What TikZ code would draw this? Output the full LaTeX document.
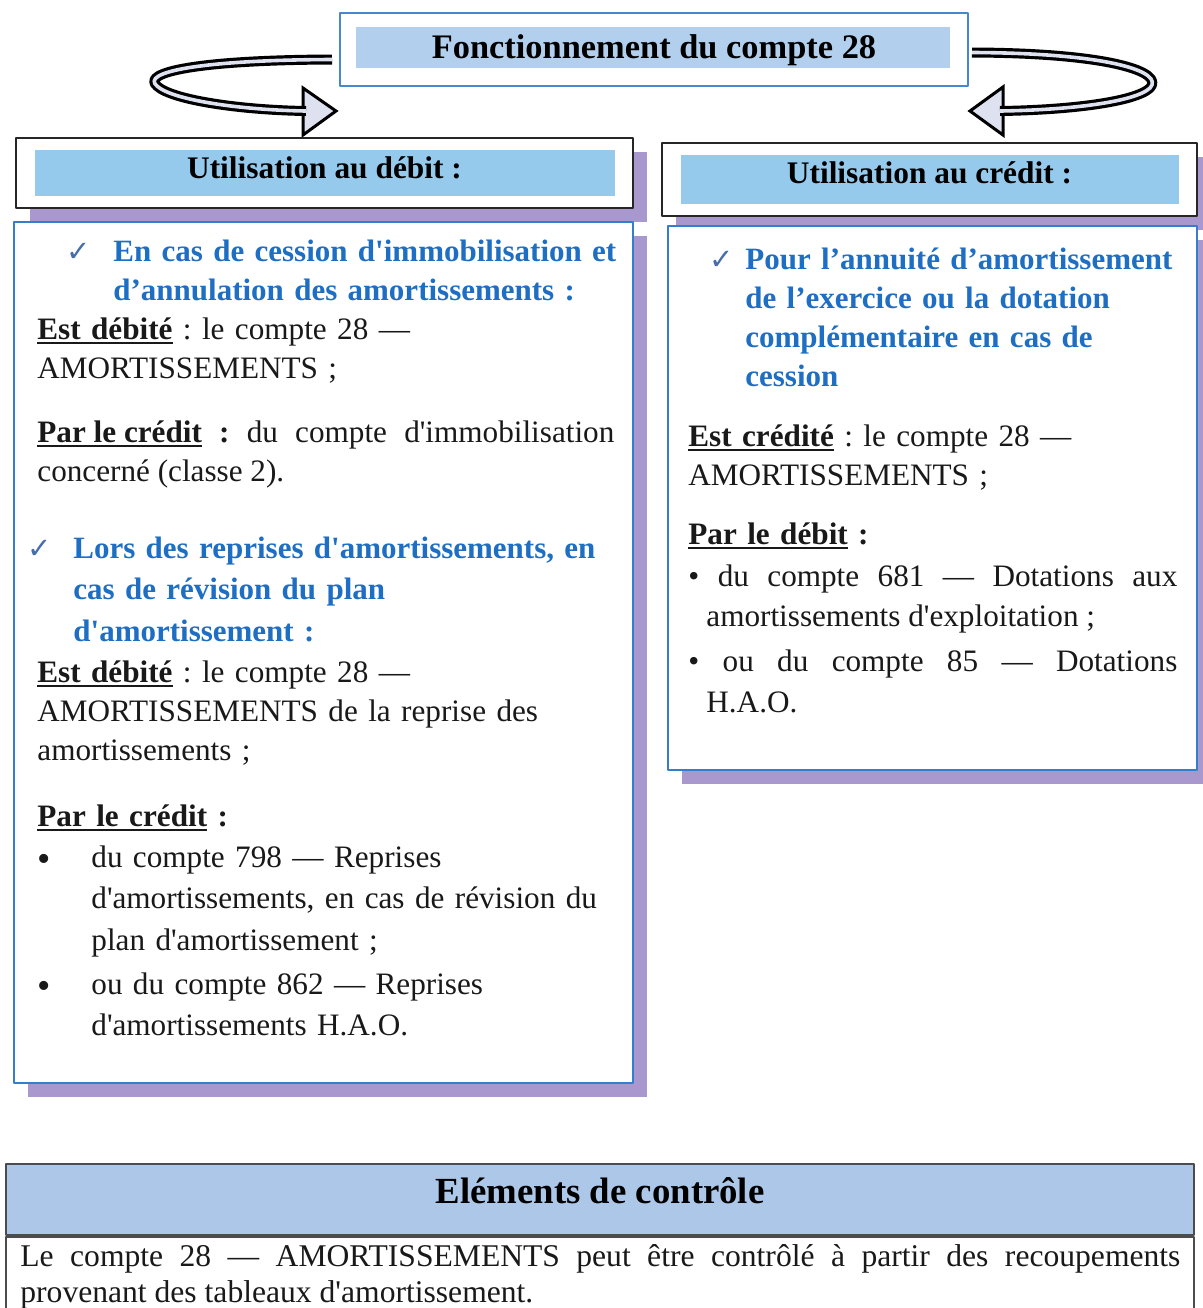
\documentclass[tikz,border=0pt]{standalone}
\usepackage{fontspec}
\setmainfont{Liberation Serif}[Ligatures=TeXOff]
\newfontfamily\symfont{DejaVu Sans}
\usepackage{xcolor}
\usepackage{tikz}
\usetikzlibrary{calc,shadows}
\frenchspacing

\definecolor{cblue}{RGB}{30,110,195}
\definecolor{chkblue}{RGB}{70,110,170}
\definecolor{boxblue}{RGB}{55,125,205}
\definecolor{titleline}{RGB}{70,135,210}
\definecolor{barblue}{RGB}{150,202,236}
\definecolor{titlebar}{RGB}{178,208,238}
\definecolor{ctrlblue}{RGB}{172,199,231}
\definecolor{shadowpurple}{RGB}{168,152,205}
\definecolor{arrowfill}{RGB}{222,226,240}
\definecolor{inktext}{RGB}{25,25,25}

\newsavebox\ulbox
\newcommand\ulin[1]{\sbox\ulbox{#1}\rlap{\rule[-2.4pt]{\wd\ulbox}{1.1pt}}\usebox\ulbox}

\tikzset{
  txt/.style={anchor=base west,inner sep=0pt,text width=#1,align=left,font=\fontsize{15.6}{19.5}\selectfont,text=inktext},
  jtxt/.style={txt=#1,align=justify},
  hd/.style={txt=#1,font=\fontsize{15.5}{19.5}\selectfont\bfseries,text=cblue},
  chk/.style={anchor=base west,inner sep=0pt,font=\symfont\fontsize{14.5}{14.5}\selectfont,text=chkblue},
  purple shadow/.style={drop shadow={shadow xshift=7pt,shadow yshift=-7pt,fill=shadowpurple,opacity=1}},
  titlebox/.style={draw=titleline,line width=1pt,fill=white,minimum width=314pt,minimum height=36.5pt,
    font=\fontsize{17.2}{20}\selectfont\bfseries,text depth=3pt,
    path picture={\fill[titlebar] ([shift={(8pt,-7pt)}]path picture bounding box.north west) rectangle ([shift={(-9pt,9pt)}]path picture bounding box.south east);}},
  hdr/.style={draw=black!85,line width=1pt,fill=white,purple shadow,font=\fontsize{15.7}{19}\selectfont\bfseries,
    path picture={\fill[barblue] ([shift={(9.5pt,-6pt)}]path picture bounding box.north west) rectangle ([shift={(-9pt,6pt)}]path picture bounding box.south east);}},
  panel/.style={draw=boxblue,line width=1.2pt,fill=white,purple shadow,inner sep=0pt},
  bigarrow/.style={line width=1.6pt,double=arrowfill,double distance=1.8pt},
  tipshape/.style={draw,line width=1.5pt,fill=arrowfill,line join=miter}
}

\begin{document}
\begin{tikzpicture}[x=0.5pt,y=-0.5pt,line join=round]
\fill[white] (0,0) rectangle (1203,1308);
\useasboundingbox (0,0) rectangle (1203,1308);

\node[titlebox] (title) at (654,49.5) {Fonctionnement du compte 28};
\coordinate (ltip) at (336,111);
\coordinate (rtip) at (970,111);
\filldraw[tipshape] (ltip) -- ++(-33,-23) -- ++(0,47) -- cycle;
\filldraw[tipshape] (rtip) -- ++(33,-24) -- ++(0,48) -- cycle;
\draw[bigarrow] ($(title.west)+(-7,10)$) .. controls (200,60) and (140,72) .. (157,86) .. controls (172,100) and (240,110) .. ($(ltip)+(-30,0)$);
\draw[bigarrow] ($(title.east)+(3,3)$) .. controls (1110,53) and (1165,72) .. (1150,88) .. controls (1135,102) and (1070,110) .. ($(rtip)+(30,0)$);

\node[hdr,minimum width=308.5pt,minimum height=35pt,text depth=5pt] (debhdr) at (324.5,173) {Utilisation au débit :};
\node[hdr,minimum width=267.5pt,minimum height=36.5pt,text depth=7pt] (credhdr) at (929.5,179.5) {Utilisation au crédit :};
\node[panel,minimum width=309.5pt,minimum height=430.5pt] (debbox) at (323.5,652.5) {};
\node[panel,minimum width=264.5pt,minimum height=272pt] (credbox) at (932.5,498) {};

\node[chk] (c1) at (66,261) {✓};
\node[hd=275pt] (h1) at (113,261) {En cas de cession d'immobilisation et\\ d’annulation des amortissements :};
\node[txt=290pt] (b1) at (37,339) {\ulin{\textbf{Est débité}} : le compte 28 —\\ AMORTISSEMENTS ;};
\node[jtxt=288.5pt] (b2) at (37,442) {\ulin{\textbf{Par le crédit}} \textbf{:} du compte d'immobilisation\linebreak concerné (classe 2).};
\node[chk] (c2) at (27,558) {✓};
\node[hd=285pt,font=\fontsize{15.5}{20.75}\selectfont\bfseries] (h2) at (73,558) {Lors des reprises d'amortissements, en\\ cas de révision du plan\\ d'amortissement :};
\node[txt=290pt] (b3) at (37,682) {\ulin{\textbf{Est débité}} : le compte 28 —\\ AMORTISSEMENTS de la reprise des\\ amortissements ;};
\node[txt=290pt] (b4) at (37,826) {\ulin{\textbf{Par le crédit}} \textbf{:}};
\foreach \n/\y/\t in {1/867/{du compte 798 — Reprises\\ d'amortissements, en cas de révision du\\ plan d'amortissement ;},2/994/{ou du compte 862 — Reprises\\ d'amortissements H.A.O.}}{
  \node[txt=12pt,font=\fontsize{19}{19}\selectfont] (dot\n) at (37,\y+4) {\textbullet};
  \node[txt=266pt,font=\fontsize{15.6}{20.75}\selectfont] (item\n) at (91,\y) {\t};
}

\node[chk] (c3) at (709,269) {✓};
\node[hd=225pt] (h3) at (745,269) {Pour l’annuité d’amortissement\\ de l’exercice ou la dotation\\ complémentaire en cas de\\ cession};
\node[txt=250pt] (b5) at (688,446) {\ulin{\textbf{Est crédité}} : le compte 28 —\\ AMORTISSEMENTS ;};
\node[txt=250pt] (b6) at (688,544) {\ulin{\textbf{Par le débit}} \textbf{:}};
\node[jtxt=244.5pt,font=\fontsize{15.6}{20}\selectfont] (r1) at (688,586) {\textbullet\ du compte 681 — Dotations aux\linebreak\hspace*{9pt}amortissements d'exploitation ;};
\node[jtxt=244.5pt,font=\fontsize{15.6}{20.5}\selectfont] (r2) at (688,671) {\textbullet\ ou du compte 85 — Dotations\linebreak\hspace*{9pt}H.A.O.};

\node[draw=black!70,line width=0.9pt,fill=ctrlblue,minimum width=594pt,minimum height=35.5pt,font=\fontsize{18.4}{20}\selectfont\bfseries,text depth=9pt] (ctrl) at (600,1199.5) {Eléments de contrôle};
\node[draw=black!70,line width=0.9pt,fill=white,minimum width=594pt,minimum height=50pt,anchor=north] (ctrlbody) at (ctrl.south) {};
\node[jtxt=580pt,font=\fontsize{15.8}{18}\selectfont] (ctrltxt) at (20,1266) {Le compte 28 — AMORTISSEMENTS peut être contrôlé à partir des recoupements\linebreak provenant des tableaux d'amortissement.};
\end{tikzpicture}
\end{document}
